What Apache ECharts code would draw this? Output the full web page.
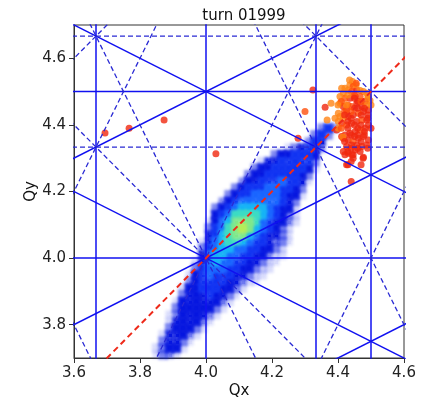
<!DOCTYPE html>
<html><head><meta charset="utf-8">
<script src="https://cdn.jsdelivr.net/npm/echarts@6/dist/echarts.min.js"></script>
<style>html,body{margin:0;background:#fff}#c{width:429px;height:401px}</style>
</head><body><div id="c"></div>
<script>
// axis ticks
const xTicks = [3.6, 3.8, 4.0, 4.2, 4.4, 4.6];
const yTicks = [3.8, 4.0, 4.2, 4.4, 4.6];

// resonance lines, each [a, b, n] meaning a*Qx + b*Qy = n
const normalLines = [[1,0,4],[3,0,11],[3,0,13],[2,0,9],[0,1,4],[0,2,9],
  [1,2,12],[1,2,13],[-1,2,3],[-1,2,4],[-1,2,5]];
const skewLines = [[0,3,13],[0,3,14],[2,1,11],[2,1,12],[2,1,13],
  [2,-1,3],[2,-1,4],[2,-1,5],[1,1,8],[1,1,9],[-1,1,1]];
const couplingLine = [1,-1,0];

// particle density: rows from Qy=3.70 upward, columns from Qx=3.80, cell 0.02
const gridQx0 = 3.80, gridQy0 = 3.70, gridStep = 0.02;
const densityRows = [
  "001221000000000000000000000000",
  "001233100000000000000000000000",
  "000233210000000000000000000000",
  "000133321000000000000000000000",
  "000023332100000000000000000000",
  "000013333210000000000000000000",
  "000012333321000000000000000000",
  "000002333332100000000000000000",
  "000001333333210000000000000000",
  "000000233343321000000000000000",
  "000000133444332100000000000000",
  "000000023444433211000000000000",
  "000000013454443321100000000000",
  "000000002455544332110000000000",
  "000000001356554433211000000000",
  "000000000356655443321100000000",
  "000000000245665544332100000000",
  "000000000135677654432210000000",
  "000000000034678865433210000000",
  "000000000024578986543210000000",
  "000000000013568887543321000000",
  "000000000003457777654321000000",
  "000000000002345666654331000000",
  "000000000000234555555432000000",
  "000000000000023445555433100000",
  "000000000000002344455443200000",
  "000000000000000233444544310000",
  "000000000000000023344444320000",
  "000000000000000002334444431000",
  "000000000000000000133444442000",
  "000000000000000000002334443000",
  "000000000000000000000012344200",
  "000000000000000000000000024300",
  "000000000000000000000000002420",
  "000000000000000000000000000242"
];
const densityColors = ['', 'rgba(20,40,235,0.4)', 'rgba(10,28,228,0.72)', '#0818e0', '#1234f2',
  '#1a66ff', '#16b4f6', '#3cdcc4', '#7ee88a', '#b4ec58'];

// large-amplitude particles
const lostQx = [4.444,4.436,4.446,4.421,4.431,4.411,4.416,4.441,4.457,4.467,4.477,4.487,4.492,4.497,4.482,4.467,4.452,4.436,4.421,4.406,
  4.406,4.416,4.426,4.441,4.457,4.472,4.487,4.492,4.477,4.462,4.446,4.431,4.416,4.406,4.401,4.411,4.426,4.441,4.457,4.472,
  4.487,4.492,4.482,4.467,4.452,4.436,4.421,4.416,4.431,4.446,4.462,4.477,4.492,4.487,4.472,4.457,4.441,4.426,4.416,4.431,
  4.446,4.421,4.446,4.477,4.452,4.467,4.361,4.379,4.391,4.401,4.396,4.411,4.401,4.415,4.430,4.442,4.476,4.440,4.426,
  4.324,4.300,4.367,4.279,4.030,3.694,3.767,3.873,
  4.450,4.460,4.430,4.470,4.450,4.420,4.440,4.460,4.430,4.480,4.450,4.470,4.440,4.490,4.425,4.455,
  4.410,4.430,4.450,4.470,4.490,4.420,4.440,4.460,4.480,4.500,4.410,4.430,4.450,4.470,4.490,4.420,4.440,4.460,4.480,4.500,
  4.430,4.460,4.490,4.440,4.470,4.400,4.455,4.435];
const lostQy = [4.530,4.520,4.515,4.510,4.505,4.510,4.495,4.500,4.505,4.503,4.500,4.495,4.485,4.473,4.470,4.485,4.485,4.480,4.480,4.485,
  4.465,4.455,4.445,4.455,4.465,4.455,4.460,4.445,4.440,4.435,4.430,4.425,4.420,4.425,4.435,4.405,4.400,4.405,4.410,4.415,
  4.415,4.400,4.390,4.385,4.380,4.375,4.370,4.360,4.355,4.350,4.360,4.365,4.355,4.340,4.335,4.340,4.340,4.335,4.320,4.315,
  4.310,4.310,4.300,4.303,4.325,4.320,4.453,4.465,4.420,4.410,4.385,4.365,4.390,4.364,4.280,4.310,4.300,4.230,4.280,
  4.505,4.440,4.415,4.360,4.313,4.376,4.390,4.415,
  4.490,4.470,4.460,4.430,4.450,4.440,4.420,4.390,4.390,4.380,4.365,4.350,4.330,4.430,4.460,4.520,
  4.470,4.490,4.480,4.470,4.480,4.430,4.440,4.450,4.450,4.460,4.390,4.410,4.400,4.400,4.420,4.350,4.370,4.370,4.370,4.390,
  4.320,4.330,4.330,4.290,4.280,4.460,4.525,4.535];
const lostTone = [2,2,1,2,2,2,2,1,0,2,2,2,2,2,0,1,0,0,1,2,
  2,0,0,1,0,0,2,0,0,1,0,0,2,2,2,0,1,0,0,1,
  0,0,0,1,0,0,0,0,0,1,0,0,0,0,0,0,0,0,0,0,
  0,0,0,0,0,0,0,2,2,2,0,0,2,2,0,0,0,0,0,
  0,1,2,0,0,0,0,0,
  1,0,1,0,0,1,0,0,0,0,0,0,0,0,2,2,
  1,2,0,1,2,0,1,0,0,2,1,0,0,0,0,0,0,0,0,0,
  0,0,0,0,0,2,1,2];
const toneColors = ['#f0280f', '#ff500c', '#ff8416'];

const densityData = [];
densityRows.forEach((row, r) => {
  for (let c = 0; c < row.length; c++) {
    const lv = +row[c];
    if (lv > 0) densityData.push([gridQx0 + (c + 0.5) * gridStep, gridQy0 + (r + 0.5) * gridStep, lv]);
  }
});
densityData.sort((a, b) => a[2] - b[2]);

function lineEnds(l) {
  const [a, b, n] = l;
  if (b === 0) return [[n / a, 3.4], [n / a, 4.9]];
  return [[3.4, (n - a * 3.4) / b], [4.9, (n - a * 4.9) / b]];
}

// each density cell is drawn as a soft spot: the shape sits off to the side and only its blurred shadow shows
const SHIFT = 2000;
const series = [];
series.push({
  type: 'custom', z: 1, silent: true, animation: false,
  data: densityData,
  renderItem(params, api) {
    const x = api.value(0), y = api.value(1), h = gridStep * 0.72;
    const p0 = api.coord([x - h, y + h]), p1 = api.coord([x + h, y - h]);
    const col = densityColors[api.value(2)];
    return { type: 'rect', shape: { x: p0[0] - SHIFT, y: p0[1], width: p1[0] - p0[0], height: p1[1] - p0[1] },
      style: { fill: col, shadowColor: col, shadowBlur: 3, shadowOffsetX: SHIFT, shadowOffsetY: 0 } };
  }
});
series.push({
  type: 'scatter', z: 2, silent: true, animation: false, symbolSize: 7,
  data: lostQx.map((q, i) => ({ value: [q, lostQy[i]], itemStyle: { color: toneColors[lostTone[i]] } }))
});
normalLines.forEach(l => series.push({
  type: 'line', z: 3, silent: true, animation: false, symbol: 'none', data: lineEnds(l),
  lineStyle: { color: '#1010f0', width: 1.5 }
}));
skewLines.forEach(l => series.push({
  type: 'line', z: 3, silent: true, animation: false, symbol: 'none', data: lineEnds(l),
  lineStyle: { color: '#2a2ad4', width: 1.3, type: [5, 3] }
}));
series.push({
  type: 'line', z: 4, silent: true, animation: false, symbol: 'none', data: lineEnds(couplingLine),
  lineStyle: { color: '#ee2a1a', width: 2, type: [6, 4] }
});

const font = 'DejaVu Sans';
const chart = echarts.init(document.getElementById('c'), null, { renderer: 'canvas' });
chart.setOption({
  animation: false,
  title: { text: 'turn 01999', left: 239, textAlign: 'center', top: 4,
    textStyle: { fontFamily: font, fontSize: 15, fontWeight: 'normal', color: '#111' } },
  grid: { left: 74, top: 25, width: 330, height: 333, outerBoundsMode: 'none', containLabel: false,
    show: true, borderColor: '#333', borderWidth: 1, backgroundColor: '#fff' },
  xAxis: {
    type: 'value', min: 3.6, max: 4.6, interval: 0.2,
    name: 'Qx', nameLocation: 'middle', nameGap: 26, nameMoveOverlap: false,
    nameTextStyle: { fontFamily: font, fontSize: 15, color: '#111' },
    axisLine: { show: true, lineStyle: { color: '#333', width: 1 } },
    axisTick: { show: true, length: 5, lineStyle: { color: '#333' } },
    axisLabel: { fontFamily: font, fontSize: 15, color: '#222', margin: 8,
      customValues: xTicks, formatter: v => v.toFixed(1) },
    splitLine: { show: false }
  },
  yAxis: {
    type: 'value', min: 3.7, max: 4.7,
    name: 'Qy', nameLocation: 'middle', nameGap: 35, nameMoveOverlap: false,
    nameTextStyle: { fontFamily: font, fontSize: 15, color: '#111' },
    axisLine: { show: true, lineStyle: { color: '#333', width: 1 } },
    axisTick: { show: true, length: 5, customValues: yTicks, lineStyle: { color: '#333' } },
    axisLabel: { fontFamily: font, fontSize: 15, color: '#222', margin: 8,
      customValues: yTicks, formatter: v => v.toFixed(1) },
    splitLine: { show: false }
  },
  series
});
</script></body></html>
